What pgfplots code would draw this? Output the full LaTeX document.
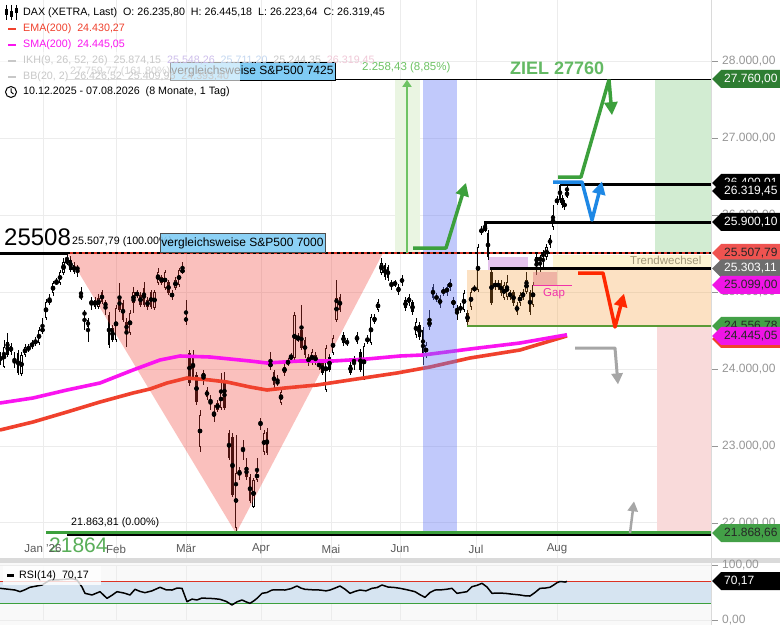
\documentclass[border=0pt]{standalone}
\usepackage{fontspec}
\setmainfont{Liberation Sans}
\usepackage{pgfplots}
\pgfplotsset{compat=1.18}
\usepackage{pgfplotstable}
\usetikzlibrary{arrows.meta}

\definecolor{emac}{RGB}{240,65,45}
\definecolor{smac}{RGB}{250,20,240}
\definecolor{gridc}{RGB}{236,236,236}
\definecolor{tri}{RGB}{242,60,50}
\definecolor{bband}{RGB}{100,120,245}
\definecolor{orng}{RGB}{245,150,40}
\definecolor{zg}{RGB}{60,160,60}
\definecolor{zielg}{RGB}{100,185,100}
\definecolor{blarrow}{RGB}{30,136,229}
\definecolor{redarrow}{RGB}{255,40,0}
\definecolor{tagdg}{RGB}{46,125,50}
\definecolor{taglg}{RGB}{67,160,71}
\definecolor{tagred}{RGB}{239,83,80}
\definecolor{tagmag}{RGB}{240,20,230}
\definecolor{taggray}{RGB}{110,110,110}
\definecolor{boxblue}{RGB}{128,204,245}
\definecolor{rsib}{RGB}{214,228,241}
\definecolor{rsibg}{RGB}{249,249,249}
\definecolor{sepc}{RGB}{218,218,218}
\definecolor{colg}{RGB}{210,236,210}
\definecolor{colp}{RGB}{249,218,218}
\definecolor{measg}{RGB}{234,245,226}
\definecolor{measline}{RGB}{110,195,100}
\definecolor{trendy}{RGB}{253,244,210}
\definecolor{purpb}{RGB}{228,196,236}
\definecolor{gapc}{RGB}{220,110,120}
\definecolor{gapmag}{RGB}{240,50,170}
\definecolor{lvlred}{RGB}{220,50,35}
\definecolor{lineg}{RGB}{90,155,55}
\definecolor{lineg2}{RGB}{60,160,60}
\definecolor{ticktxt}{RGB}{150,150,150}
\definecolor{monthtxt}{RGB}{90,90,90}
\definecolor{fadetxt}{RGB}{200,200,200}

\newcommand{\lf}{\fontsize{10.7}{12}\selectfont}
\newcommand{\tf}{\fontsize{12}{14}\selectfont}

\pgfplotstableread{
x o h l c
0.5 24117 24221 24052 24156
4 24026 24377 24013 24286
21.5 23935 24221 23909 24182
25 24182 24325 24156 24286
28.5 24247 24325 24221 24286
32 24286 24377 24260 24338
35.5 24325 24416 24299 24377
39 24338 24546 24312 24507
42.5 24481 24663 24455 24533
46 24663 24910 24637 24871
49.5 24871 24975 24832 24897
53 24988 25144 24949 25118
56.5 25118 25183 25092 25131
60 25118 25287 25092 25261
63.5 25248 25443 25222 25391
67 25378 25508 25352 25417
91.5 24858 24936 24767 24871
95 24806 24936 24780 24897
98.5 24806 24975 24780 24923
116 24377 24832 24351 24793
130 24468 24767 24442 24728
133.5 24858 25066 24728 25001
137 24962 25027 24923 24988
154.5 24793 25027 24767 25001
158 25118 25313 25092 25261
165 25053 25287 25027 25261
172 24936 25027 24897 24988
175.5 25053 25196 25027 25157
179 25092 25313 25066 25287
182.5 25261 25391 25235 25287
200 22986 23467 22921 23402
203.5 23883 23987 23792 23948
214 23376 23532 23311 23441
217.5 23467 23597 23441 23558
221 23493 23948 23467 23727
236 21933 23142 21864 22648
253.5 22206 22583 22193 22557
257 22557 22843 22531 22661
264 22921 23207 22882 23168
270.5 24026 24221 23987 24078
281 23558 23753 23532 23701
284.5 23948 24078 23909 24026
288 24078 24143 24039 24091
291 24143 24208 24117 24156
294.5 24143 24741 24117 24702
298 24377 24468 24351 24416
312 24078 24260 24052 24221
326 23727 24312 23701 24273
333 24208 24442 24182 24403
336.5 24637 25157 24611 24923
357 24351 24481 24325 24442
364 23883 24338 23857 24299
367.5 24351 24442 24325 24403
371 24338 24715 24312 24676
378 24767 24910 24741 24871
381.5 25248 25443 25222 25378
395 25105 25157 25066 25118
409 24858 24975 24819 24936
416 24442 24663 24403 24611
426 24182 24351 24143 24312
429.5 24546 24767 24507 24637
440 24832 24962 24793 24923
443.5 24988 25066 24949 25027
450 25053 25170 25014 25131
453.5 24832 24936 24793 24897
464 24767 25027 24741 24988
471 24806 25053 24767 25001
474.5 25027 25092 25001 25053
478 25027 25625 25001 25586
481.5 25781 25859 25742 25807
485 25807 25911 25781 25846
498 25066 25157 25027 25118
504 24923 25131 24897 25092
507 24936 25222 24897 25131
517 24741 24871 24702 24832
520 24858 25001 24819 24962
523 24923 25040 24897 25001
526.5 25001 25261 24975 25157
533 24832 25131 24806 25092
540 25417 25482 25261 25443
546.5 25456 25625 25417 25586
553 25846 26132 25807 26002
557 26171 26249 26132 26197
564.5 26106 26197 26067 26158
567 26235.80 26445.18 26223.64 26319.45
}\upc

\pgfplotstableread{
x o h l c
7.5 24351 24468 24156 24182
11 24299 24338 24182 24221
14.5 24117 24221 24013 24078
18 24208 24247 23922 23948
70.5 25417 25469 25261 25287
74 25352 25391 25235 25261
77.5 25326 25352 25196 25287
81 24962 25066 24897 24923
84.5 24741 24767 24507 24702
88 24637 24663 24351 24546
102 25001 25027 24845 24871
105.5 24871 24897 24702 24806
109 24702 24741 24273 24312
112.5 24533 24572 24351 24377
119.5 24936 25118 24741 24767
123 24858 24897 24611 24637
126.5 24611 24663 24286 24481
140.5 24962 25001 24806 24832
144 25053 25131 24806 24832
147.5 24897 24936 24767 24806
151 25001 25027 24780 24806
161.5 25196 25222 25092 25118
168.5 25131 25157 24962 24988
186 24676 24897 24572 24611
189.5 24208 24247 23779 23818
193 24182 24247 23857 23896
196.5 23922 23961 23532 23571
207 23727 23766 23597 23636
210.5 23597 23662 23467 23571
224.5 23831 23961 23467 23493
229 23168 23207 22817 22843
232.5 23116 23168 22336 22362
239.5 22687 22726 22557 22622
243 22973 23077 22817 22947
246.5 22726 22843 22557 22596
250 22596 22635 22258 22284
260.5 23311 23363 23207 23285
267 23181 23233 22882 22908
274 23961 23987 23753 23792
277.5 23831 23922 23779 23818
301.5 24507 24832 24247 24273
305 24377 24416 24143 24182
308.5 24156 24195 24039 24078
315.5 24182 24221 24052 24078
319 24078 24117 23987 24026
322.5 24078 24117 23922 23948
329.5 24156 24195 23961 23987
340 24936 24975 24741 24767
343.5 24442 24481 24299 24338
347 24351 24403 24299 24338
350.5 24052 24091 23922 23948
354 24117 24169 23987 24091
360.5 24221 24260 23961 23987
374.5 24676 24715 24585 24611
385 25352 25378 25157 25196
388 25326 25352 25144 25183
391.5 25118 25157 25027 25092
398.5 25066 25105 24962 25001
402 25183 25222 25079 25118
405.5 24897 24936 24754 24793
412.5 24871 24897 24702 24741
419.5 24572 24611 24377 24416
423 24507 24546 24052 24208
433 25066 25105 24897 24923
436.5 24936 24988 24871 24923
447 25066 25105 24949 24988
457 24793 24832 24637 24741
460.5 24806 24858 24728 24767
467.5 24728 24767 24559 24611
488 25768 25807 25417 25456
491.5 25261 25287 24832 24858
495 25118 25157 25027 25066
501 25118 25157 24949 24988
510 25001 25027 24897 24936
513.5 25001 25027 24819 24858
530 25001 25027 24702 24741
536.5 25456 25495 25222 25378
543 25508 25547 25287 25456
550 25703 25742 25573 25612
560 26392 26418 26158 26197
562.5 26223 26262 26093 26132
}\downc

\pgfplotsset{base/.style={scale only axis, axis line style={draw=none}, tick style={draw=none},
  xticklabels={}, yticklabels={}, grid=major, major grid style={gridc, line width=0.7pt},
  xmin=0, xmax=712, xtick={43,116,186,261,331,400,476,557}}}

\newcommand{\ptag}[4]{%
  \fill[#2] (712,#1) -- (721,#1-9) -- (780,#1-9) -- (780,#1+9) -- (721,#1+9) -- cycle;
  \node[anchor=west, text=#3, inner sep=0pt, font=\tf] at (724,#1) {#4};}

\begin{document}
\begin{tikzpicture}
\path[use as bounding box] (0,0) rectangle (780pt,625pt);
\begin{scope}[x=1pt,y=-1pt,shift={(0pt,625pt)}]
\fill[white] (0,0) rectangle (780,625);
\fill[rsibg] (0,563) rectangle (712,625);
\fill[sepc] (0,558) rectangle (780,563);
\end{scope}

\begin{axis}[base, at={(0pt,67pt)}, anchor=south west, width=712pt, height=558pt,
  ymin=21543, ymax=28797, ytick={22000,23000,...,28000}]
% zones
\addplot[fill=colg, draw=none] coordinates {(655,27760)(711,27760)(711,25508)(655,25508)};
\addplot[fill=colp, draw=none] coordinates {(657,24557)(711,24557)(711,21864)(657,21864)};
\addplot[fill=measg, draw=none] coordinates {(395,27760)(420,27760)(420,25508)(395,25508)};
\addplot[fill=trendy, draw=none] coordinates {(553,25482)(711,25482)(711,25287)(553,25287)};
\addplot[fill=purpb, draw=none] coordinates {(488,25456)(528,25456)(528,25287)(488,25287)};
% candles: wicks
\addplot[only marks, mark=none, error bars/.cd, y dir=both, y explicit, error mark=none,
  error bar style={line width=1pt, black}]
  table[x=x, y expr={(\thisrow{h}+\thisrow{l})/2}, y error expr={(\thisrow{h}-\thisrow{l})/2}] {\upc};
\addplot[only marks, mark=none, error bars/.cd, y dir=both, y explicit, error mark=none,
  error bar style={line width=1pt, black}]
  table[x=x, y expr={(\thisrow{h}+\thisrow{l})/2}, y error expr={(\thisrow{h}-\thisrow{l})/2}] {\downc};
% bodies
\addplot[only marks, mark=none, error bars/.cd, y dir=both, y explicit, error mark=none,
  error bar style={line width=2.7pt, black}]
  table[x=x, y expr={(\thisrow{o}+\thisrow{c})/2}, y error expr={max(abs(\thisrow{c}-\thisrow{o})/2,7)}] {\downc};
\addplot[only marks, mark=none, error bars/.cd, y dir=both, y explicit, error mark=none,
  error bar style={line width=2.9pt, black}]
  table[x=x, y expr={(\thisrow{o}+\thisrow{c})/2}, y error expr={max(abs(\thisrow{c}-\thisrow{o})/2,7)}] {\upc};
\addplot[only marks, mark=none, error bars/.cd, y dir=both, y explicit, error mark=none,
  error bar style={line width=0.9pt, white}]
  table[x=x, y expr={(\thisrow{o}+\thisrow{c})/2}, y error expr={max(abs(\thisrow{c}-\thisrow{o})/2-13,0)}] {\upc};
% overlays
\addplot[fill=tri, fill opacity=0.32, draw=none] coordinates {(67,25508)(383,25508)(236,21864)};
\addplot[fill=orng, fill opacity=0.28, draw=none] coordinates {(467,25287)(711,25287)(711,24557)(467,24557)};
\addplot[fill=gapc, fill opacity=0.4, draw=none] coordinates {(533,25261)(557,25261)(557,25092)(533,25092)};
% moving averages
\addplot[emac, line width=3.6pt, line join=round] coordinates {(0,23207)(33,23311)(67,23441)(100,23571)(133,23688)(150,23740)(167,23818)(187,23883)(210,23857)(227,23831)(250,23766)(267,23727)(285,23753)(317,23792)(350,23857)(397,23948)(430,24026)(470,24143)(520,24247)(567,24430.27)};
\addplot[smac, line width=3.6pt, line join=round] coordinates {(0,23558)(33,23623)(67,23727)(100,23818)(133,23987)(160,24117)(180,24169)(210,24156)(250,24104)(267,24078)(300,24104)(333,24104)(367,24130)(400,24169)(423,24182)(470,24260)(520,24338)(567,24445.05)};
% blue band
\addplot[fill=bband, fill opacity=0.4, draw=none] coordinates {(423,27760)(457,27760)(457,21864)(423,21864)};
% level lines
\addplot[black, line width=3pt] coordinates {(0,25507.79)(67,25507.79)};
\addplot[lvlred, line width=2pt] coordinates {(67,25507.79)(711,25507.79)};
\addplot[black, line width=1.4pt, dash pattern=on 3pt off 3pt] coordinates {(67,25507.79)(711,25507.79)};
\addplot[black!35, line width=1pt] coordinates {(67,27759.77)(335,27759.77)};
\addplot[black, line width=1.2pt] coordinates {(335,27760)(711,27760)};
\addplot[black, line width=3pt] coordinates {(560,26400.01)(711,26400.01)};
\addplot[black, line width=3pt] coordinates {(485,25790)(485,25900.10)(711,25900.10)};
\addplot[black, line width=3pt] coordinates {(490,25303.11)(711,25303.11)};
\addplot[lineg, line width=2.5pt] coordinates {(467,24556.78)(711,24556.78)};
\addplot[black, line width=1.5pt, yshift=-1.8pt] coordinates {(67,21863.81)(711,21863.81)};
\addplot[lineg2, line width=3pt] coordinates {(46,21868.66)(711,21868.66)};
\addplot[gapmag, line width=1pt] coordinates {(533,25092)(572,25092)};
% measure arrow
\addplot[measline, line width=1.5pt, -{Triangle[length=7pt,width=9pt]}] coordinates {(407,25508)(407,27760)};
% scenario arrows
\addplot[zg, line width=3.5pt, line join=round, -{Triangle[length=13pt,width=13pt]}] coordinates {(413,25573)(446,25573)(466,26420)};
\addplot[zg, line width=3.5pt, line join=round] coordinates {(558,26496)(581,26496)(609,27760)};
\addplot[zg, line width=3.5pt, -{Triangle[length=13pt,width=13pt]}] coordinates {(609,27760)(612,27300)};
\addplot[blarrow, line width=3.5pt, line join=round, -{Triangle[length=13pt,width=13pt]}] coordinates {(553,26431)(582,26431)(592,25937)(602,26440)};
\addplot[redarrow, line width=3.5pt, line join=round, -{Triangle[length=13pt,width=13pt]}] coordinates {(578,25248)(603,25248)(615,24546)(624,24980)};
\addplot[black!35, line width=3pt, line join=round, -{Triangle[length=11pt,width=11pt]}] coordinates {(575,24273)(615,24273)(618,23800)};
\addplot[black!35, line width=2.5pt, line join=round, -{Triangle[length=10pt,width=10pt]}] coordinates {(630,21868)(634,22280)};
\end{axis}

\begin{axis}[base, at={(0pt,5pt)}, anchor=south west, width=712pt, height=55pt,
  ymin=0, ymax=100, ytick={0,100}]
\addplot[fill=rsib, draw=none] coordinates {(0,30)(711,30)(711,70)(0,70)};
\addplot[lvlred, line width=1.5pt] coordinates {(0,70)(711,70)};
\addplot[lineg2, line width=1.5pt] coordinates {(0,30)(711,30)};
\addplot[black, line width=1.5pt, line join=round] coordinates {(0,57.6)(8,56)(15,54.5)(20,51.5)(25,55)(30,59.5)(42,63.6)(50,72.7)(58,73)(65,74)(72,75)(77,72.7)(82,60)(85,48.5)(92,45.5)(100,51.5)(107,39.4)(112,45)(117,51.5)(124,49)(130,45.5)(135,55.8)(140,52)(145,49.7)(152,53)(160,59.5)(166,55)(172,54.5)(177,58)(182,57.6)(187,33.3)(192,38)(197,36.4)(202,40)(207,39.4)(213,39)(220,37.6)(226,34)(232,27.3)(237,33)(242,36.4)(246,33)(250,30.3)(254,35)(257,39.4)(262,48.5)(267,50)(272,54.5)(279,55)(285,54.5)(291,57)(297,61.8)(301,58)(305,55.8)(312,55)(320,54.5)(326,53)(330,54.5)(335,58)(340,61.8)(345,56)(350,48.5)(355,52)(360,54.5)(366,53)(372,57.6)(377,59)(382,63.6)(388,60)(395,59)(400,57.6)(407,55)(415,51.5)(420,46)(425,41.2)(430,50)(435,54.5)(442,55)(447,56)(452,57.6)(457,48.5)(462,50)(467,51.5)(472,60.6)(477,63)(482,66.7)(487,60)(492,48.5)(498,49)(505,48.5)(512,47)(520,45.5)(525,44)(530,43.6)(535,50)(540,57.6)(545,58)(550,59.5)(554,64)(557,67.8)(560,70)(562,69.7)(565,69)(567,70.17)};
\end{axis}

\begin{scope}[x=1pt,y=-1pt,shift={(0pt,625pt)}]
% right boundary
\draw[sepc, line width=0.8pt] (711.5,0) -- (711.5,625);
% fib label + boxes
\node[anchor=west, inner sep=0pt, font=\lf, text=black!45] at (70,72) {27.759,77 (161.80\%)};
\fill[boxblue] (170,62) rectangle (335,80);
\draw[black, line width=0.8pt] (170,62) rectangle (335,80);
\node[inner sep=0pt, font=\tf] at (252.5,71.5) {vergleichsweise S\&P500 7425};
\fill[white, opacity=0.62] (0,52) rectangle (240,86);
\node[anchor=west, inner sep=0pt, font=\lf] at (72,241.5) {25.507,79 (100.00\%)};
\fill[boxblue, opacity=0.9] (160,233) rectangle (325,252);
\draw[black!70, line width=0.6pt] (160,233) rectangle (325,252);
\node[inner sep=0pt, font=\tf] at (242.5,243) {vergleichsweise S\&P500 7000};
\node[anchor=west, inner sep=0pt, font=\fontsize{24}{26}\selectfont] at (4,237) {25508};
\node[anchor=west, inner sep=0pt, font=\lf] at (71,523) {21.863,81 (0.00\%)};
\node[anchor=west, inner sep=0pt, font=\fontsize{21}{24}\selectfont, text=lineg2!85!white] at (49,545) {21864};
\node[anchor=west, inner sep=0pt, font=\fontsize{11.5}{13}\selectfont, text=measline] at (362,68) {2.258,43 (8,85\%)};
\node[anchor=west, inner sep=0pt, font=\fontsize{18}{20}\selectfont\bfseries, text=zielg] at (510,68) {ZIEL 27760};
\node[anchor=west, inner sep=0pt, font=\fontsize{11.5}{13}\selectfont, text={rgb,255:red,160;green,150;blue,120}] at (630,260) {Trendwechsel};
\node[anchor=west, inner sep=0pt, font=\fontsize{11.5}{13}\selectfont, text=gapmag] at (543,294) {Gap};
% legend
\draw[line width=1pt] (6,5) -- (6,20) (11,5) -- (11,20) (16,5) -- (16,20);
\fill (4.5,9) rectangle (7.5,15);
\fill (9.5,11) rectangle (12.5,17);
\fill (14.5,8) rectangle (17.5,13);
\node[anchor=west, inner sep=0pt, font=\lf] at (23,12.5) {DAX (XETRA, Last)~~O: 26.235,80~~H: 26.445,18~~L: 26.223,64~~C: 26.319,45};
\draw[emac, line width=2.5pt] (8,29) -- (16,29);
\node[anchor=west, inner sep=0pt, font=\lf, text=emac] at (23,29) {EMA(200)~~24.430,27};
\draw[smac, line width=2.5pt] (8,45) -- (16,45);
\node[anchor=west, inner sep=0pt, font=\lf, text=smac] at (23,45) {SMA(200)~~24.445,05};
\draw[fadetxt, line width=2.5pt] (8,61) -- (16,61);
\node[anchor=west, inner sep=0pt, font=\lf, text=fadetxt] at (23,61) {IKH(9, 26, 52, 26)~~25.874,15~~\textcolor[RGB]{205,190,235}{25.548,26}~~\textcolor[RGB]{195,215,240}{25.711,20}~~25.244,35~~\textcolor[RGB]{240,200,215}{26.319,45}};
\draw[fadetxt, line width=2.5pt] (8,77) -- (16,77);
\node[anchor=west, inner sep=0pt, font=\lf, text=fadetxt] at (23,77) {BB(20, 2)~~26.426,52~~25.409,96~~24.393,40};
\draw[line width=1pt] (11,92) circle (5.5);
\draw[line width=1pt] (11,88.5) -- (11,92) -- (13.5,94);
\node[anchor=west, inner sep=0pt, font=\lf] at (23,92) {10.12.2025 - 07.08.2026~~(8 Monate, 1 Tag)};
% months
\foreach \mx/\ml in {43/{Jan '26},116/Feb,186/Mär,261/Apr,331/Mai,400/Jun,476/Jul,557/Aug}
  \node[inner sep=0pt, font=\fontsize{11.5}{13}\selectfont, text=monthtxt] at (\mx,549) {\ml};
% right ticks
\foreach \ty/\tl in {61/{28.000,00},138/{27.000,00},215/{26.000,00},292/{25.000,00},369/{24.000,00},446/{23.000,00},523/{22.000,00},565/{100,00},620/{0,00}}{
  \draw[ticktxt, line width=0.8pt] (712,\ty) -- (718,\ty);
  \node[anchor=west, inner sep=0pt, font=\tf, text=ticktxt] at (722,\ty) {\tl};}
% tags
\ptag{79}{tagdg}{white}{27.760,00}
\ptag{183}{black}{white}{26.400,01}
\ptag{191}{black}{white}{26.319,45}
\ptag{222}{black}{white}{25.900,10}
\ptag{253}{tagred}{black!85}{25.507,79}
\ptag{268.5}{taggray}{white}{25.303,11}
\ptag{285}{tagmag}{black!85}{25.099,00}
\ptag{326}{taglg}{black!85}{24.556,78}
\ptag{339}{emac}{black!85}{24.430,27}
\ptag{336}{tagmag}{black!85}{24.445,05}
\ptag{533}{taglg}{black!85}{21.868,66}
\ptag{581}{black}{white}{70,17}
% RSI legend
\fill[white, opacity=0.8] (3,566) rectangle (101,585);
\draw[black, line width=2.5pt] (7,575.5) -- (14,575.5);
\node[anchor=west, inner sep=0pt, font=\lf] at (19,575.5) {RSI(14)~~70,17};
\end{scope}
\end{tikzpicture}
\end{document}
